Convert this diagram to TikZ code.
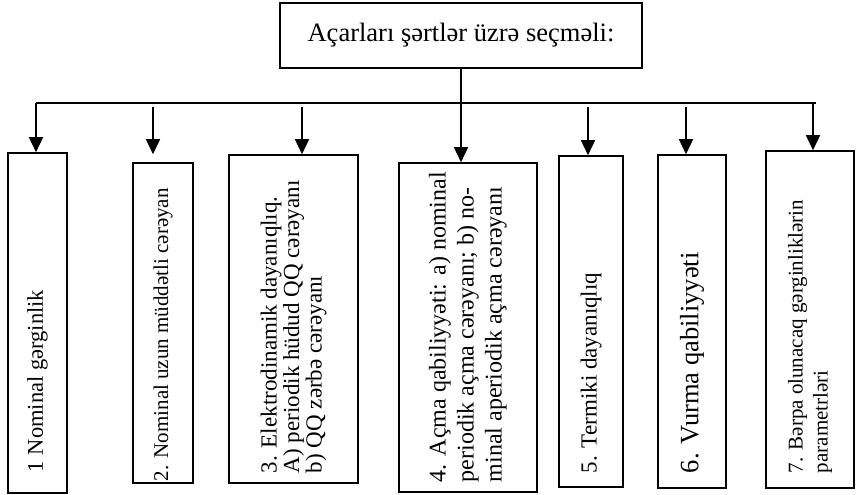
\documentclass[tikz,border=0pt]{standalone}
\usepackage{fontspec}
\setmainfont{Liberation Serif}
\usepackage{graphicx}
\usepackage{tikz}
\usetikzlibrary{arrows.meta,calc}

% text turned to read upwards inside a tall box; optional arg nudges it sideways
\newcommand{\uptext}[3][0pt]{\rotatebox{90}{\parbox{#2}{\raggedright #3}}\hspace{#1}}

\begin{document}
\begin{tikzpicture}[x=1pt,y=-1pt,
    box/.style={draw,line width=1.6pt,inner sep=0pt},
    wire/.style={line width=1.6pt},
    arr/.style={line width=1.6pt,-{Triangle[width=14pt,length=15pt]}}]
  \useasboundingbox (0,0) rectangle (857,495);

  \node[box,minimum width=362pt,minimum height=65pt,font=\fontsize{26.5}{30}\selectfont]
    (top) at (461,35.5) {Açarları şərtlər üzrə seçməli:};

  \node[box,minimum width=59pt,minimum height=340pt,font=\fontsize{22.5}{26}\selectfont]
    (b1) at (37.5,323) {\uptext[-13pt]{298pt}{1 Nominal gərginlik}};
  \node[box,minimum width=60pt,minimum height=320pt,font=\fontsize{21}{24}\selectfont]
    (b2) at (163,323) {\uptext[-9pt]{316pt}{2. Nominal uzun müddətli cərəyan}};
  \node[box,minimum width=129pt,minimum height=328pt,font=\fontsize{23}{22.5}\selectfont]
    (b3) at (293.5,319) {\uptext[6pt]{308pt}{3. Elektrodinamik dayanıqlıq.\\
      \mbox{A) periodik hüdud QQ cərəyanı}\\ b) QQ zərbə cərəyanı}};
  \node[box,minimum width=138pt,minimum height=329pt,font=\fontsize{24}{28}\selectfont]
    (b4) at (468,327.5) {\uptext[8pt]{309pt}{\mbox{4. Açma qabiliyyəti: a) nominal}\\
      \mbox{periodik açma cərəyanı; b) no-}\\ \mbox{minal aperiodik açma cərəyanı}}};
  \node[box,minimum width=64pt,minimum height=331pt,font=\fontsize{23}{27}\selectfont]
    (b5) at (591,321.5) {\uptext[-7pt]{303pt}{5. Termiki dayanıqlıq}};
  \node[box,minimum width=68pt,minimum height=333pt,font=\fontsize{26.5}{30}\selectfont]
    (b6) at (692,321.5) {\uptext[-7pt]{303pt}{6. Vurma qabiliyyəti}};
  \node[box,minimum width=88pt,minimum height=337pt,font=\fontsize{21}{25}\selectfont]
    (b7) at (810,319.5) {\uptext[-8pt]{307pt}{\mbox{7. Bərpa olunacaq gərginliklərin}\\ parametrləri}};

  % bus under the header and the drops to each box
  \coordinate (d1) at (36,103);
  \coordinate (d2) at (153,106.5);
  \coordinate (d3) at (302,106.5);
  \coordinate (d5) at (588,106.5);
  \coordinate (d6) at (686,106.5);
  \coordinate (d7) at (813,103);
  \coordinate (busR) at (816,103);
  \draw[wire] (d1) -- (busR);
  \draw[arr] (top.south) -- (top.south |- b4.north);
  \foreach \d/\b in {d1/b1,d3/b3,d5/b5,d6/b6,d7/b7}
    \draw[arr] (\d) -- (\d |- \b.north);
  \draw[arr] (d2) -- ($(d2 |- b2.north)+(0,-8)$);
\end{tikzpicture}
\end{document}
